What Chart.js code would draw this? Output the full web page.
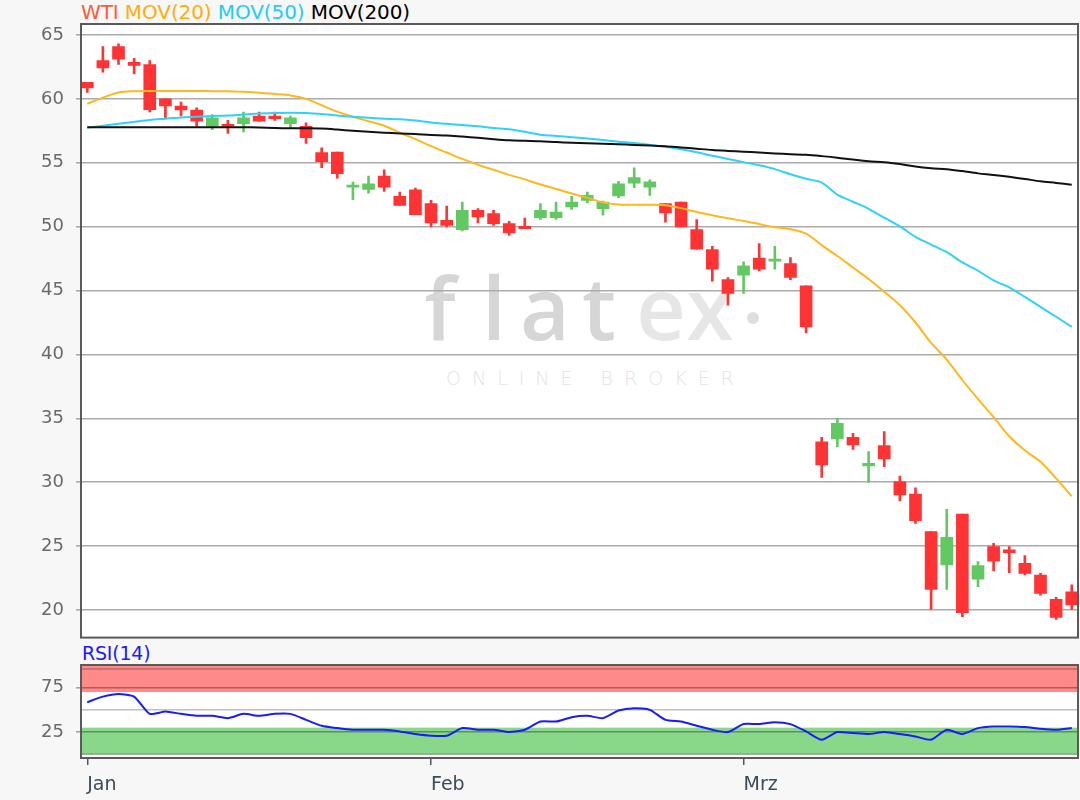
<!DOCTYPE html>
<html>
<head>
<meta charset="utf-8">
<script src="https://cdn.jsdelivr.net/npm/chart.js@4.4.1/dist/chart.umd.min.js"></script>
<style>
  html, body { margin:0; padding:0; background:#f7f7f7; width:1080px; height:800px; overflow:hidden; font-family:'DejaVu Sans', sans-serif; }
  #wm { position:absolute; left:0; top:0; }
  #main { position:absolute; left:0; top:0; }
  #rsi { position:absolute; left:0; top:640px; }
  .legend { position:absolute; left:81px; top:1px; font-size:20px; line-height:22px; white-space:pre; letter-spacing:-0.1px; }
  .rsilabel { position:absolute; left:82px; top:642px; font-size:19px; line-height:22px; color:#1a1aff; letter-spacing:-0.2px; }
</style>
</head>
<body>
<svg id="wm" width="1080" height="800">
  <rect x="81" y="24" width="997" height="614" fill="#ffffff"/>
  <g font-family="Open Sans" font-weight="600" font-size="86" text-anchor="middle">
    <text x="440" y="340" fill="#d6d6d6">f</text>
    <text x="494" y="340" fill="#d6d6d6">l</text>
    <text x="545" y="340" fill="#d6d6d6">a</text>
    <text x="599" y="340" fill="#d6d6d6">t</text>
    <text x="661" y="340" fill="#e6e6e6">e</text>
    <text x="710" y="340" fill="#e6e6e6">x</text>
  </g>
  <circle cx="753" cy="318" r="6" fill="#dedede"/>
  <text x="446" y="385" font-family="DejaVu Sans" font-weight="300" font-size="19" letter-spacing="11" fill="#e4e4e4">ONLINE BROKER</text>
</svg>
<div class="legend"><span style="color:#ff5a3a">WTI</span> <span style="color:#ffad0a">MOV(20)</span> <span style="color:#22ccf5">MOV(50)</span> <span style="color:#000">MOV(200)</span></div>
<div class="rsilabel">RSI(14)</div>
<canvas id="main" width="1080" height="680"></canvas>
<canvas id="rsi" width="1080" height="160"></canvas>
<script>
// ---- data ----
const monthLabels = ['Jan', 'Feb', 'Mrz'];
const monthStarts = [0, 22, 42];

const openV  = [61.3,63.0,64.1,62.87,62.69,60.01,59.44,59.13,57.86,58.0,58.06,58.66,58.66,58.06,57.86,55.8,55.83,53.1,52.92,53.96,52.37,52.89,51.8,50.5,49.77,51.28,51.02,50.24,50.03,50.7,50.7,51.54,52.06,51.41,52.4,53.41,53.1,51.8,51.93,49.77,48.2,45.86,46.2,47.55,47.3,47.11,45.36,33.17,33.38,33.51,31.27,32.86,30.04,29.08,26.13,23.52,27.51,22.42,24.96,24.7,23.65,22.74,20.83,21.43];
const highV  = [61.3,64.1,64.3,63.18,63.0,60.01,59.75,59.29,58.77,58.32,58.97,58.97,58.97,58.66,58.12,56.17,55.83,53.49,53.96,54.45,52.71,53.02,52.06,51.61,51.93,51.41,51.28,50.42,50.68,51.8,51.93,52.37,52.7,52.0,53.54,54.61,53.67,51.8,51.93,50.55,48.46,46.02,47.24,48.67,48.46,47.58,45.36,33.51,35.0,33.83,32.39,33.96,30.49,29.57,26.13,27.88,27.51,23.78,25.22,24.96,24.25,22.87,20.99,21.96];
const lowV   = [60.5,62.1,62.7,61.96,58.97,58.45,58.66,57.86,57.6,57.29,57.42,58.25,58.32,57.73,56.51,54.61,53.8,52.11,52.63,52.76,51.67,50.94,49.97,49.97,49.66,50.29,50.1,49.32,49.84,50.57,50.57,51.35,51.85,50.9,52.27,53.05,52.45,50.36,49.97,48.23,45.73,43.85,44.77,46.54,46.67,45.86,41.69,30.38,32.78,32.57,29.99,31.22,28.53,26.78,20.05,21.62,19.48,21.83,23.05,22.92,22.74,21.17,19.27,20.05];
const closeV = [60.85,62.43,63.1,62.61,59.16,59.44,59.13,58.25,58.51,57.86,58.51,58.25,58.45,58.51,56.97,55.08,54.15,53.2,53.36,53.1,51.67,50.94,50.29,50.1,51.28,50.76,50.24,49.51,49.84,51.28,51.15,51.93,52.45,51.93,53.36,53.85,53.5,51.07,49.97,48.23,46.67,44.77,46.93,46.67,47.42,46.02,42.16,31.35,34.61,32.91,31.48,31.82,29.0,26.99,21.62,25.69,19.79,23.47,23.83,24.49,22.87,21.3,19.42,20.39];

const mov20  = [59.62,60.1,60.5,60.6,60.62,60.62,60.62,60.62,60.6,60.6,60.55,60.48,60.38,60.27,60.0,59.5,59.0,58.6,58.25,57.9,57.35,56.85,56.3,55.8,55.3,54.85,54.45,54.05,53.7,53.3,52.95,52.6,52.25,51.9,51.74,51.72,51.72,51.68,51.45,51.15,50.9,50.65,50.45,50.2,49.95,49.8,49.45,48.55,47.7,46.8,45.9,44.9,43.85,42.5,40.9,39.6,38.0,36.5,35.1,33.6,32.5,31.6,30.3,28.9];
const mov50  = [57.75,57.9,58.05,58.2,58.35,58.45,58.55,58.6,58.66,58.7,58.78,58.85,58.9,58.92,58.9,58.82,58.7,58.6,58.52,58.45,58.4,58.3,58.15,58.05,57.95,57.86,57.72,57.62,57.42,57.2,57.1,57.0,56.9,56.78,56.65,56.55,56.4,56.25,56.05,55.82,55.55,55.3,55.05,54.8,54.5,54.1,53.75,53.45,52.5,51.95,51.4,50.7,50.03,49.2,48.6,48.0,47.2,46.55,45.8,45.25,44.5,43.72,42.95,42.16];
const mov200 = [57.78,57.78,57.78,57.78,57.78,57.78,57.78,57.78,57.78,57.78,57.78,57.76,57.72,57.7,57.7,57.68,57.6,57.5,57.42,57.35,57.3,57.25,57.18,57.14,57.05,56.96,56.85,56.76,56.72,56.69,56.62,56.57,56.52,56.48,56.44,56.4,56.35,56.3,56.2,56.1,56.0,55.93,55.87,55.8,55.73,55.67,55.62,55.52,55.4,55.25,55.12,55.05,54.9,54.7,54.57,54.5,54.35,54.17,54.05,53.9,53.73,53.55,53.42,53.28];

const rsi14 = [58.6,64.9,67.9,64.9,45.5,48.1,45.5,43.3,43.3,40.7,45.5,43.3,45.5,45.5,38.8,32.1,29.5,27.6,27.6,27.6,25.7,22.8,20.9,20.9,29.5,27.6,27.6,25.0,27.6,36.9,36.9,41.8,43.3,40.7,49.3,51.9,50.0,38.8,36.9,32.1,27.6,25.0,34.0,34.0,36.2,34.0,25.7,16.4,25.0,23.9,22.8,25.0,22.8,20.1,16.4,27.6,22.8,29.5,31.3,31.3,30.6,28.7,27.6,29.5];

const mainYTicks = [20,25,30,35,40,45,50,55,60,65];
const rsiYTicks = [25, 75];

// ---- helpers ----
const UP = '#62c962', DOWN = '#ff3333';
const idx = openV.map((_, i) => i);
const candleColors = idx.map(i => closeV[i] >= openV[i] ? UP : DOWN);
const XMIN = -0.4, XMAX = 63.4;
const FONT = 'DejaVu Sans';

const framePlugin = {
  id: 'frame',
  afterDraw(chart) {
    const a = chart.chartArea, c = chart.ctx;
    c.save(); c.strokeStyle = '#5a5a5a'; c.lineWidth = 2;
    c.strokeRect(a.left, a.top, a.right - a.left, a.bottom - a.top);
    c.restore();
  }
};

// ---- main chart ----
new Chart(document.getElementById('main'), {
  type: 'bar',
  data: {
    datasets: [
      { type:'line', data: idx.map(i => ({x:i, y:mov200[i]})), borderColor:'#111111', borderWidth:2, pointRadius:0, tension:0.3, order:0 },
      { type:'line', data: idx.map(i => ({x:i, y:mov50[i]})), borderColor:'#2ed2f7', borderWidth:2, pointRadius:0, tension:0.3, order:0 },
      { type:'line', data: idx.map(i => ({x:i, y:mov20[i]})), borderColor:'#ffb81c', borderWidth:2, pointRadius:0, tension:0.3, order:0 },
      { type:'bar', data: idx.map(i => ({x:i, y:[openV[i], closeV[i]]})), backgroundColor:candleColors, barThickness:12, minBarLength:2, grouped:false, borderWidth:0, order:1 },
      { type:'bar', data: idx.map(i => ({x:i, y:[lowV[i], highV[i]]})), backgroundColor:candleColors, barThickness:2, grouped:false, borderWidth:0, order:2 }
    ]
  },
  options: {
    responsive:false, animation:false, devicePixelRatio:1,
    layout:{ padding:{ top:24, bottom:0, left:0, right:2 } },
    plugins:{ legend:{display:false}, tooltip:{enabled:false} },
    scales:{
      x:{ type:'linear', min:XMIN, max:XMAX, offset:false, display:true,
          afterFit(s){ s.height = 42.4; },
          ticks:{ display:false },
          grid:{ display:false },
          border:{ display:false } },
      y:{ type:'linear', min:17.84, max:65.86,
          afterFit(s){ s.width = 81; },
          afterBuildTicks(s){ s.ticks = mainYTicks.map(v => ({value:v})); },
          ticks:{ color:'#6a6a6a', font:{family:FONT, size:18}, padding:12 },
          grid:{ color:'#ababab', lineWidth:1.6, tickLength:5 },
          border:{ display:false } }
    }
  },
  plugins:[framePlugin]
});

// ---- RSI chart ----
const bandPlugin = {
  id:'bands',
  beforeDraw(chart) {
    const a = chart.chartArea, c = chart.ctx, y = chart.scales.y;
    c.save();
    c.fillStyle = '#ffffff'; c.fillRect(a.left, a.top, a.right - a.left, a.bottom - a.top);
    c.fillStyle = '#ff8a8a';
    c.fillRect(a.left, y.getPixelForValue(100.4), a.right - a.left, y.getPixelForValue(70) - y.getPixelForValue(100.4));
    c.fillStyle = '#89d789';
    c.fillRect(a.left, y.getPixelForValue(30), a.right - a.left, y.getPixelForValue(0) - y.getPixelForValue(30));
    c.strokeStyle = 'rgba(0,0,0,0.25)'; c.lineWidth = 1.5;
    [96, 50, 0].forEach(v => { const p = y.getPixelForValue(v); c.beginPath(); c.moveTo(a.left, p); c.lineTo(a.right, p); c.stroke(); });
    c.restore();
  }
};

new Chart(document.getElementById('rsi'), {
  type:'line',
  data:{ datasets:[ { data: idx.map(i => ({x:i, y:rsi14[i]})), borderColor:'#1a1aff', borderWidth:2, pointRadius:0, tension:0.2 } ] },
  options:{
    responsive:false, animation:false, devicePixelRatio:1,
    layout:{ padding:{ top:25, bottom:0, left:0, right:2 } },
    plugins:{ legend:{display:false}, tooltip:{enabled:false} },
    scales:{
      x:{ type:'linear', min:XMIN, max:XMAX, offset:false,
          afterFit(s){ s.height = 42; },
          afterBuildTicks(s){ s.ticks = monthStarts.map(v => ({value:v})); },
          ticks:{ autoSkip:false, maxRotation:0, align:'start', color:'#3a4c5c', font:{family:FONT, size:19}, padding:9,
                  callback(v){ const k = monthStarts.indexOf(v); return k >= 0 ? monthLabels[k] : ''; } },
          grid:{ drawOnChartArea:false, drawTicks:true, tickLength:7, color:'#4a5866', lineWidth:1.5 },
          border:{ display:false } },
      y:{ type:'linear', min:-4.1, max:100.4,
          afterFit(s){ s.width = 81; },
          afterBuildTicks(s){ s.ticks = rsiYTicks.map(v => ({value:v})); },
          ticks:{ color:'#6a6a6a', font:{family:FONT, size:18}, padding:12 },
          grid:{ color:'rgba(0,0,0,0.33)', lineWidth:1.6, tickLength:5 },
          border:{ display:false } }
    }
  },
  plugins:[bandPlugin, framePlugin]
});
</script>
</body>
</html>
